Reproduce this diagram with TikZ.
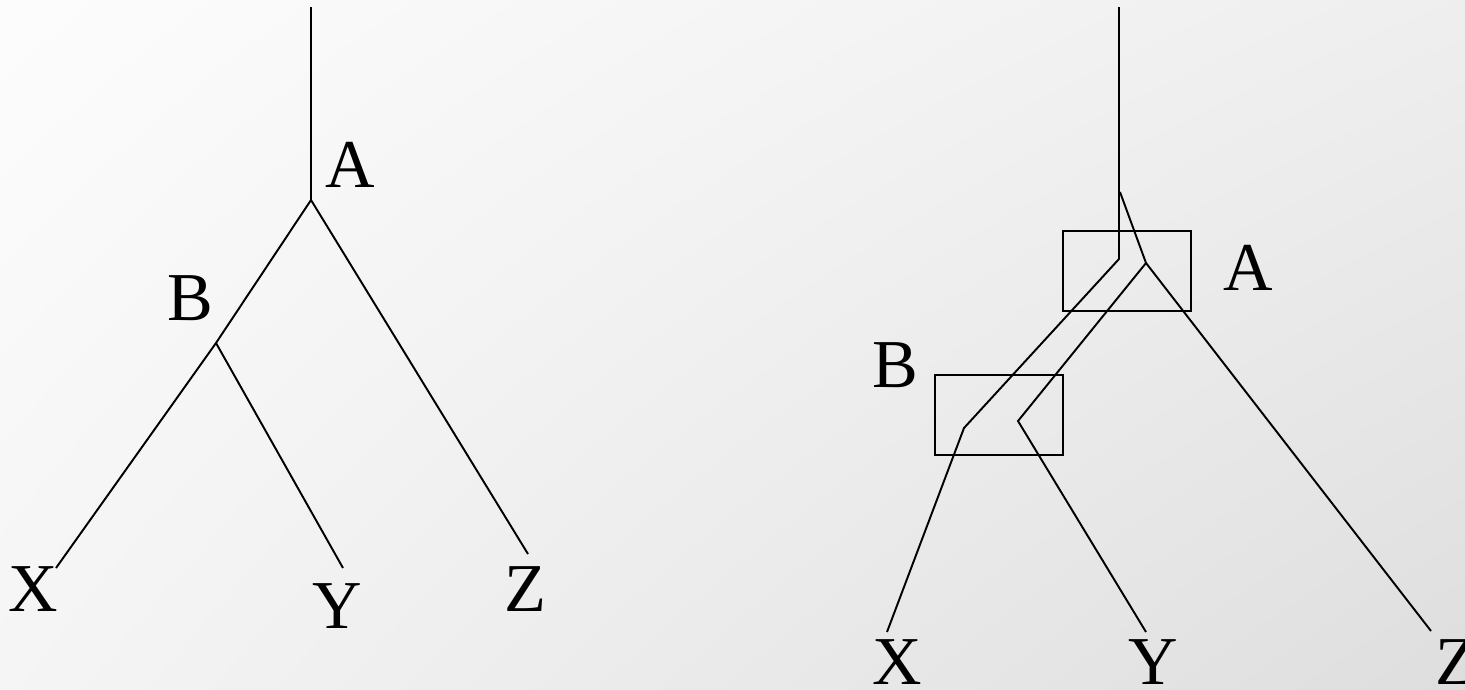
\documentclass[tikz,border=0pt]{standalone}
\usepackage{fontspec}
\setmainfont{Liberation Serif}
\usetikzlibrary{shadings}
\begin{document}
\begin{tikzpicture}[x=0.1mm,y=-0.1mm,font=\fontsize{19.5}{22}\selectfont,
	branch/.style={line width=0.55pt},
	tag/.style={anchor=base, inner sep=0pt},
	regionbox/.style={draw, line width=0.7pt, minimum width=12.8mm, minimum height=8mm, inner sep=0pt}]

	% Sfondo sfumato
	\shade[upper left=gray!2, upper right=gray!13, lower left=gray!8, lower right=gray!26]
		(0,0) rectangle (1465,689);
	\useasboundingbox (0,0) rectangle (1465,689);

	% Albero semplice (sinistra)
	\coordinate (lroot) at (311,7);
	\coordinate (lA) at (311,200);
	\coordinate (lB) at (216,343);
	\coordinate (lX) at (56,568);
	\coordinate (lY) at (343,568);
	\coordinate (lZ) at (528,554);
	\draw[branch] (lroot) -- (lA);
	\draw[branch] (lA) -- (lB) -- (lX);
	\draw[branch] (lB) -- (lY);
	\draw[branch] (lA) -- (lZ);
	\node[tag] (lAtag) at (350,187) {A};
	\node[tag] (lBtag) at (190,320) {B};
	\node[tag] (lXtag) at (33,611) {X};
	\node[tag] (lYtag) at (337,628) {Y};
	\node[tag] (lZtag) at (525,611) {Z};

	% Albero con riquadri (destra)
	\coordinate (rroot) at (1119,7);
	\coordinate (rsplit) at (1120,192);
	\coordinate (rA1) at (1119,259);
	\coordinate (rA2) at (1146,263);
	\coordinate (rB1) at (964,428);
	\coordinate (rB2) at (1018,421);
	\coordinate (rX) at (887,632);
	\coordinate (rY) at (1146,632);
	\coordinate (rZ) at (1431,631);
	\draw[branch] (rroot) -- (rA1) -- (rB1) -- (rX);
	\draw[branch] (rsplit) -- (rA2) -- (rB2) -- (rY);
	\draw[branch] (rA2) -- (rZ);
	\node[regionbox] (boxA) at (1127,271) {};
	\node[regionbox] (boxB) at (999,415) {};
	\node[tag] (rAtag) at (1248,290) {A};
	\node[tag] (rBtag) at (895,387) {B};
	\node[tag] (rXtag) at (897,684) {X};
	\node[tag] (rYtag) at (1153,684) {Y};
	\node[tag, anchor=base west] (rZtag) at (1435,684) {Z};
\end{tikzpicture}
\end{document}
